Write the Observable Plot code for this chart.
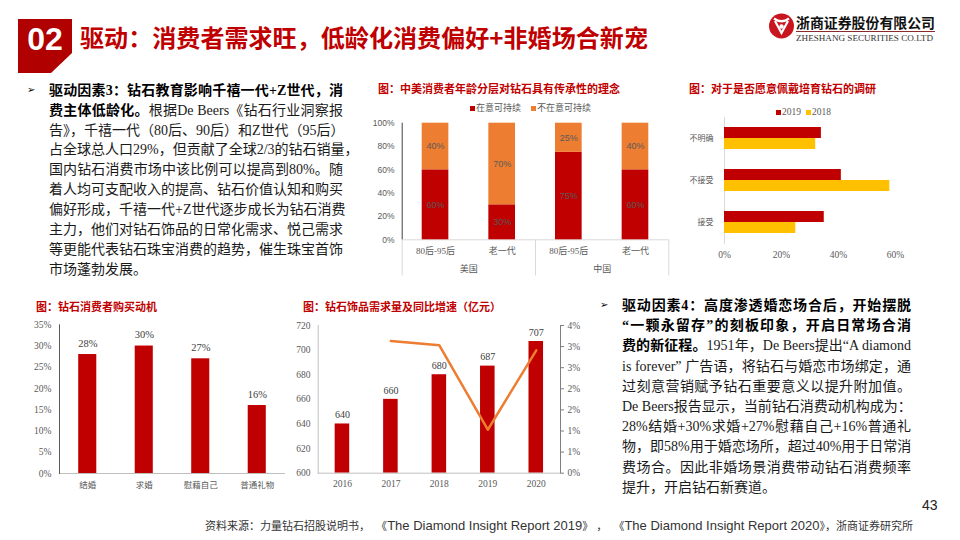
<!DOCTYPE html>
<html><head><meta charset="utf-8">
<script src="https://cdn.jsdelivr.net/npm/d3@7"></script>
<script src="https://cdn.jsdelivr.net/npm/@observablehq/plot@0.6"></script>
<style>
body{margin:0;width:960px;height:540px;position:relative;overflow:hidden;background:#fff;font-family:"Noto Sans CJK SC",sans-serif;}
.abs{position:absolute;}
.ctitle{position:absolute;font-size:11px;line-height:14px;font-weight:700;color:#C00000;white-space:nowrap;font-family:"Noto Sans CJK SC",sans-serif;}
.para{position:absolute;font-family:"Liberation Serif","Noto Sans CJK SC",serif;font-size:14px;color:#1a1a1a;}
.para div{white-space:nowrap;text-align:justify;text-align-last:justify;}
.para div.last{text-align-last:left;}
.para b{font-weight:700;color:#000;}
.leg{position:absolute;font-size:9px;line-height:10px;color:#595959;white-space:nowrap;}
.sq{position:absolute;width:5px;height:5px;}
.bullet{position:absolute;font-family:"DejaVu Sans";font-size:10px;line-height:12px;color:#000;}
.plotbox{position:absolute;}
.plotbox svg{position:absolute;left:0;top:0;max-width:none;}
</style></head>
<body>
<!-- header -->
<svg class="abs" style="left:0;top:0" width="960" height="80">
  <polygon points="18,19 72,19 72,53 51,73 18,73" fill="#B00000"/>
  <text x="45" y="50" text-anchor="middle" fill="#fff" font-family="Liberation Sans" font-weight="700" font-size="32">02</text>
  <text x="80" y="47" fill="#C00000" font-family="Noto Sans CJK SC" font-weight="700" font-size="24" textLength="568" lengthAdjust="spacingAndGlyphs">驱动：消费者需求旺，低龄化消费偏好+非婚场合新宠</text>
  <circle cx="781.5" cy="26" r="12.5" fill="#C9151E"/>
  <path d="M774,18.5 Q781.5,24 789,18.5 M775,21 L781.5,33 L788,21" stroke="#fff" stroke-width="2.2" fill="none"/>
  <circle cx="781.5" cy="26.5" r="2.2" fill="#fff"/>
  <text x="796" y="28" fill="#111" font-family="Noto Sans CJK SC" font-weight="700" font-size="14" textLength="139" lengthAdjust="spacingAndGlyphs">浙商证券股份有限公司</text>
  <line x1="796" y1="31.5" x2="935" y2="31.5" stroke="#8a2a2a" stroke-width="1"/>
  <text x="796" y="41" fill="#333" font-family="Liberation Serif" font-size="9" textLength="137" lengthAdjust="spacingAndGlyphs">ZHESHANG SECURITIES CO.LTD</text>
</svg>

<!-- left paragraph -->
<div class="bullet" style="left:27px;top:84px">➢</div>
<div class="para" style="left:49px;top:80.7px;width:294px;line-height:19.9px">
<div><b>驱动因素3：钻石教育影响千禧一代+Z世代，消</b></div>
<div><b>费主体低龄化。</b>根据De Beers《钻石行业洞察报</div>
<div>告》，千禧一代（80后、90后）和Z世代（95后）</div>
<div>占全球总人口29%，但贡献了全球2/3的钻石销量，</div>
<div>国内钻石消费市场中该比例可以提高到80%。随</div>
<div>着人均可支配收入的提高、钻石价值认知和购买</div>
<div>偏好形成，千禧一代+Z世代逐步成长为钻石消费</div>
<div>主力，他们对钻石饰品的日常化需求、悦己需求</div>
<div>等更能代表钻石珠宝消费的趋势，催生珠宝首饰</div>
<div class="last">市场蓬勃发展。</div>
</div>

<!-- right paragraph -->
<div class="bullet" style="left:600px;top:299px">➢</div>
<div class="para" style="left:622px;top:295.9px;width:289px;line-height:20.2px">
<div><b>驱动因素4：高度渗透婚恋场合后，开始摆脱</b></div>
<div><b>“一颗永留存”的刻板印象，开启日常场合消</b></div>
<div><b>费的新征程。</b>1951年，De Beers提出“A diamond</div>
<div>is forever” 广告语，将钻石与婚恋市场绑定，通</div>
<div>过刻意营销赋予钻石重要意义以提升附加值。</div>
<div>De Beers报告显示，当前钻石消费动机构成为：</div>
<div>28%结婚+30%求婚+27%慰藉自己+16%普通礼</div>
<div>物，即58%用于婚恋场所，超过40%用于日常消</div>
<div>费场合。因此非婚场景消费带动钻石消费频率</div>
<div class="last">提升，开启钻石新赛道。</div>
</div>

<div class="abs" style="left:922px;top:496px;font-family:'Liberation Sans';font-size:14px;line-height:18px;color:#222">43</div>
<div class="abs" style="left:205px;top:518px;font-size:11px;line-height:16px;color:#333;white-space:pre;font-family:'Liberation Sans','Noto Sans CJK SC',sans-serif">资料来源：力量钻石招股说明书，  《<span style="font-size:13px">The Diamond Insight Report 2019</span>》 ，  《<span style="font-size:13px">The Diamond Insight Report 2020</span>》，浙商证券研究所</div>

<!-- chart titles -->
<div class="ctitle" style="left:378px;top:81.3px">图：中美消费者年龄分层对钻石具有传承性的理念</div>
<div class="ctitle" style="left:689px;top:81.3px">图：对于是否愿意佩戴培育钻石的调研</div>
<div class="ctitle" style="left:36px;top:298.5px">图：钻石消费者购买动机</div>
<div class="ctitle" style="left:303px;top:299px">图：钻石饰品需求量及同比增速（亿元）</div>

<!-- legends -->
<div class="sq" style="left:470px;top:106px;background:#C00000"></div>
<div class="leg" style="left:476px;top:103.3px">在意可持续</div>
<div class="sq" style="left:531px;top:106px;background:#ED7D31"></div>
<div class="leg" style="left:537px;top:103.3px">不在意可持续</div>
<div class="sq" style="left:775.5px;top:109.5px;background:#C00000"></div>
<div class="leg" style="left:782px;top:106.5px;font-family:'Liberation Serif';font-size:9.5px">2019</div>
<div class="sq" style="left:806px;top:109.5px;background:#FFC000"></div>
<div class="leg" style="left:812px;top:106.5px;font-family:'Liberation Serif';font-size:9.5px">2018</div>

<div id="chartA" class="plotbox" style="left:370px;top:112px;width:300px;height:170px"></div>
<div id="chartB" class="plotbox" style="left:680px;top:115px;width:260px;height:148px"></div>
<div id="chartC" class="plotbox" style="left:0px;top:315px;width:290px;height:180px"></div>
<div id="chartD" class="plotbox" style="left:290px;top:315px;width:300px;height:180px"></div>

<script>
// ---------- data ----------
const ageCountries = ["美国", "美国", "中国", "中国"];
const ageGroups = ["80后-95后", "老一代", "80后-95后", "老一代"];
const ageSeries = ["在意可持续", "不在意可持续"];
const careValues = [0.60, 0.30, 0.75, 0.60];
const notCareValues = [0.40, 0.70, 0.25, 0.40];
const ageTicks = [0, 0.2, 0.4, 0.6, 0.8, 1.0];
const ageGroupEdges = [0, 2, 4];

const labCats = ["不明确", "不接受", "接受"];
const labYears = ["2019", "2018"];
const lab2019 = [0.34, 0.41, 0.35];
const lab2018 = [0.32, 0.58, 0.25];
const labTicks = [0, 0.2, 0.4, 0.6];

const motiveCats = ["结婚", "求婚", "慰藉自己", "普通礼物"];
const motiveValues = [0.28, 0.30, 0.27, 0.16];
const motiveTicks = [0, 0.05, 0.10, 0.15, 0.20, 0.25, 0.30, 0.35];

const years = ["2016", "2017", "2018", "2019", "2020"];
const demand = [640, 660, 680, 687, 707];
const demandTicks = [600, 620, 640, 660, 680, 700, 720];
const growthYears = ["2017", "2018", "2019", "2020"];
const growth = [0.0313, 0.0303, 0.0103, 0.0291];
const growthTicks = [0, 0.005, 0.010, 0.015, 0.020, 0.025, 0.030, 0.035];
const growthTickLabels = ["0%", "1%", "1%", "2%", "2%", "3%", "3%", "4%"];

// ---------- helpers ----------
const serif = '"Liberation Serif","Noto Sans CJK SC",serif';
const sans = '"Noto Sans CJK SC","Liberation Sans",sans-serif';
const pct = d => Math.round(d * 100) + "%";
const RED = "#C00000", ORANGE = "#ED7D31", GOLD = "#FFC000";

// ---------- chart A ----------
const ageData = ageGroups.flatMap((g, i) => [
  {country: ageCountries[i], group: g, series: ageSeries[0], value: careValues[i]},
  {country: ageCountries[i], group: g, series: ageSeries[1], value: notCareValues[i]}
]);
const dimA = {width: 300, height: 170, marginLeft: 31.7, marginRight: 1.7, marginTop: 10.7, marginBottom: 42.7};
const chartAback = Plot.plot({
  ...dimA,
  style: {background: "transparent"},
  x: {domain: [0, 4], axis: null},
  y: {domain: [0, 1], axis: null},
  marks: [
    Plot.ruleY([0], {stroke: "#d9d9d9"}),
    Plot.ruleX(ageGroupEdges, {y1: 0, y2: -0.31, stroke: "#d9d9d9"}),
    Plot.ruleX([0], {y1: 0, y2: 1, stroke: "#404040"})
  ]
});
const chartA = Plot.plot({
  ...dimA,
  style: {background: "transparent", fontFamily: serif, fontSize: "9px", color: "#595959"},
  fx: {domain: ["美国", "中国"], padding: 0, label: null, round: false},
  x: {domain: ["80后-95后", "老一代"], paddingInner: 0.6, paddingOuter: 0.3, label: null, round: false},
  y: {domain: [0, 1], label: null},
  color: {domain: ageSeries, range: [RED, ORANGE]},
  marks: [
    Plot.barY(ageData, Plot.stackY({fx: "country", x: "group", y: "value", fill: "series"})),
    Plot.text(ageData, Plot.stackY({fx: "country", x: "group", y: "value", z: "series",
      text: d => pct(d.value), fill: "#5a5a5a", fontFamily: "Liberation Sans", fontSize: 9})),
    Plot.axisY({ticks: ageTicks, tickFormat: pct, tickSize: 0, tickPadding: 7.7, label: null,
      fontFamily: "Liberation Sans", fontSize: 8.5}),
    Plot.axisX({tickSize: 0, tickPadding: 8, label: null, fontSize: 9}),
    Plot.axisFx({anchor: "bottom", tickSize: 0, tickPadding: 25.5, label: null, fontSize: 9})
  ]
});
document.getElementById("chartA").append(chartAback, chartA);

// ---------- chart B ----------
const labData = labCats.flatMap((c, i) => [
  {cat: c, year: labYears[0], value: lab2019[i]},
  {cat: c, year: labYears[1], value: lab2018[i]}
]);
const chartB = Plot.plot({
  width: 260, height: 148, marginLeft: 44, marginRight: 45, marginTop: 2, marginBottom: 20,
  style: {background: "transparent", fontFamily: serif, fontSize: "9.5px", color: "#595959"},
  fy: {domain: labCats, padding: 0, label: null, round: false},
  y: {domain: labYears, paddingInner: 0, paddingOuter: 0.909, axis: null, label: null, round: false},
  x: {domain: [0, 0.6], label: null},
  color: {domain: labYears, range: [RED, GOLD]},
  marks: [
    Plot.frame({anchor: "left", stroke: "#d9d9d9"}),
    Plot.barX(labData, {fy: "cat", y: "year", x: "value", fill: "year"}),
    Plot.axisX({ticks: labTicks, tickFormat: pct, tickSize: 0, tickPadding: 7.5, label: null, fontSize: 9.5}),
    Plot.axisFy({anchor: "left", tickSize: 0, tickPadding: 11, label: null, fontSize: 8, fontFamily: sans})
  ]
});
document.getElementById("chartB").append(chartB);

// ---------- chart C ----------
const motiveData = motiveCats.map((c, i) => ({cat: c, value: motiveValues[i]}));
const chartC = Plot.plot({
  width: 290, height: 180, marginLeft: 59, marginRight: 5, marginTop: 9.3, marginBottom: 22,
  style: {background: "transparent", fontFamily: serif, fontSize: "9.5px", color: "#595959"},
  x: {domain: motiveCats, paddingInner: 0.68, paddingOuter: 0.34, label: null, round: false},
  y: {domain: [0, 0.35], label: null},
  marks: [
    Plot.barY(motiveData, {x: "cat", y: "value", fill: RED}),
    Plot.ruleY([0], {stroke: "#bfbfbf"}),
    Plot.frame({anchor: "left", stroke: "#595959"}),
    Plot.text(motiveData, {x: "cat", y: "value", text: d => pct(d.value), dy: -11, fill: "#404040", fontSize: 10.5}),
    Plot.axisY({ticks: motiveTicks, tickFormat: pct, tickSize: 0, tickPadding: 8, label: null, fontSize: 9.5}),
    Plot.axisX({tickSize: 0, tickPadding: 8, label: null, fontSize: 8.5, fontFamily: sans})
  ]
});
document.getElementById("chartC").append(chartC);

// ---------- chart D ----------
const demandData = years.map((y, i) => ({year: y, value: demand[i]}));
const growthData = growthYears.map((y, i) => ({year: y, value: growth[i]}));
const dimD = {width: 300, height: 180, marginLeft: 27.7, marginRight: 30, marginTop: 10, marginBottom: 22.3};
const chartD = Plot.plot({
  ...dimD,
  style: {background: "transparent", fontFamily: serif, fontSize: "9.5px", color: "#595959"},
  x: {domain: years, paddingInner: 0.7, paddingOuter: 0.35, label: null, round: false},
  y: {domain: [600, 720], label: null},
  marks: [
    Plot.barY(demandData, {x: "year", y1: () => 600, y2: "value", fill: RED}),
    Plot.ruleY([600], {stroke: "#bfbfbf"}),
    Plot.frame({anchor: "left", stroke: "#bfbfbf"}),
    Plot.text(demandData, {x: "year", y: "value", text: d => String(d.value), dy: -9, fill: "#404040", fontSize: 10}),
    Plot.axisY({ticks: demandTicks, tickFormat: d => String(d), tickSize: 0, tickPadding: 7.7, label: null, fontSize: 9.5}),
    Plot.axisX({tickSize: 0, tickPadding: 6.7, label: null, fontSize: 9.5})
  ]
});
const chartD2 = Plot.plot({
  ...dimD,
  style: {background: "transparent", fontFamily: serif, fontSize: "9.5px", color: "#595959"},
  x: {type: "point", domain: years, padding: 0.5, axis: null, round: false},
  y: {domain: [0, 0.035], label: null},
  marks: [
    Plot.frame({anchor: "right", stroke: "#7f7f7f"}),
    Plot.line(growthData, {x: "year", y: "value", stroke: ORANGE, strokeWidth: 2.5}),
    Plot.axisY({anchor: "right", ticks: growthTicks, tickFormat: d => growthTickLabels[growthTicks.indexOf(d)],
      tickSize: 3, tickPadding: 4, label: null, fontSize: 9.5, stroke: "#7f7f7f"})
  ]
});
document.getElementById("chartD").append(chartD, chartD2);
</script>
</body></html>
